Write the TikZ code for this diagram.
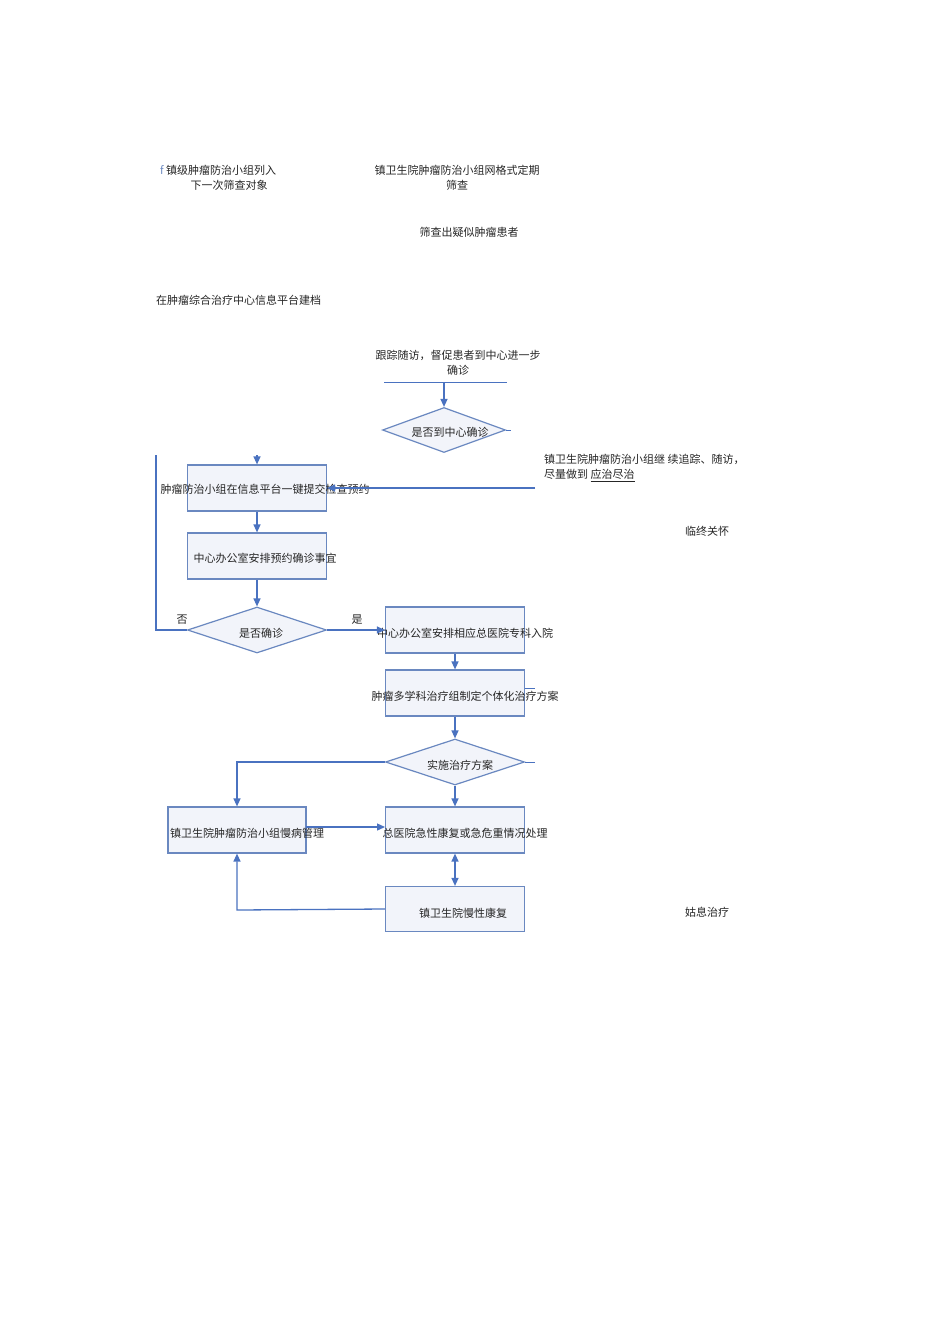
\documentclass[tikz,border=0pt]{standalone}
\usepackage{fontspec}
\newfontfamily\cjk{Noto Sans CJK SC}
\usetikzlibrary{arrows.meta,shapes.geometric}
\definecolor{ln}{HTML}{4A72C0}
\definecolor{bd}{HTML}{6A88C0}
\definecolor{bx}{HTML}{F2F4FA}
\begin{document}
\begin{tikzpicture}[x=1pt,y=-1pt,
  every node/.style={font=\cjk\fontsize{11}{15}\selectfont,text=black!85,inner sep=0pt},
  box/.style={draw=bd,line width=1.2pt,fill=bx,minimum width=139pt,minimum height=46pt,align=center},
  dia/.style={draw=bd,line width=1.2pt,fill=bx,diamond,aspect=3,minimum width=139pt,minimum height=46pt,inner sep=0pt},
  txt/.style={align=center},
  con/.style={draw=ln,line width=1.3pt},
  arr/.style={con,-{Triangle[length=8pt,width=7pt]}}]
\useasboundingbox[fill=white] (0,0) rectangle (950,1344);
\node[txt,anchor=west] (t1) at (160,178) {{\color{bd}f} 镇级肿瘤防治小组列入\\\hspace*{2em}下一次筛查对象};
\node[txt] (t2) at (457,178) {镇卫生院肿瘤防治小组网格式定期\\筛查};
\node[txt] (t3) at (469,232) {筛查出疑似肿瘤患者};
\node[txt,anchor=west] (t4) at (156,300) {在肿瘤综合治疗中心信息平台建档};
\node[txt] (t5) at (458,363) {跟踪随访，督促患者到中心进一步\\确诊};
\coordinate (l1a) at (384,382); \coordinate (l1b) at (507,382); \coordinate (l1m) at (444,382);
\draw[con,line width=0.8pt] (l1a) -- (l1b);
\node[dia,minimum width=123pt,minimum height=45pt] (d1) at (444,430) {};
\node (d1t) at (450,432) {是否到中心确诊};
\draw[arr] (l1m) -- (d1.north);
\coordinate (d1s) at (511,430); \draw[con,line width=0.8pt] (d1.east) -- (d1s);
\node[box] (b1) at (257,488) {};
\node (b1t) at (265,489) {肿瘤防治小组在信息平台\\一键提交检查预约};
\node[box] (b2) at (257,556) {};
\node (b2t) at (265,558) {中心办公室安排预约确诊\\事宜};
\node[dia] (d2) at (257,630) {};
\node (d2t) at (261,633) {是否确诊};
\node (no) at (182,620) {否};
\node (yes) at (357,620) {是};
\coordinate (vtop) at (156,455); \coordinate (vbot) at (156,630);
\draw[con] (vtop) -- (vbot) -- (d2.west);
\coordinate (a1) at (257,455); \draw[arr] (a1) -- (b1.north);
\coordinate (r1) at (535,488); \draw[arr] (r1) -- (b1.east);
\node[txt,anchor=north west,align=left] (t6) at (544,454) {镇卫生院肿瘤防治小组继 续追踪、随访，\\尽量做到 \underline{应治尽治}};
\node (t7) at (707,531) {临终关怀};
\draw[arr] (b1) -- (b2);
\draw[arr] (b2) -- (d2);
\node[box] (b3) at (455,630) {};
\node (b3t) at (465,633) {中心办公室安排相应总医\\院专科入院};
\draw[arr] (d2.east) -- (b3.west);
\node[box] (b4) at (455,693) {};
\node (b4t) at (465,696) {肿瘤多学科治疗组制定个\\体化治疗方案};
\draw[arr] (b3) -- (b4);
\coordinate (b4s) at (535,688); \draw[con,line width=0.8pt] (b4.east |- b4s) -- (b4s);
\node[dia] (d3) at (455,762) {};
\node (d3t) at (460,765) {实施治疗方案};
\draw[arr] (b4) -- (d3);
\coordinate (d3s) at (535,762); \draw[con,line width=0.8pt] (d3.east) -- (d3s);
\node[box,minimum width=138pt] (b5) at (237,830) {};
\node (b5t) at (247,833) {镇卫生院肿瘤防治小组慢\\病管理};
\node[box] (b6) at (455,830) {};
\node (b6t) at (465,833) {总医院急性康复或急危重\\情况处理};
\node[box,minimum height=45pt] (b7) at (455,909) {};
\node (b7t) at (463,913) {镇卫生院慢性康复};
\coordinate (c1) at (237,762); \draw[arr] (d3.west) -- (c1) -- (b5.north);
\draw[arr] (d3) -- (b6);
\coordinate (b5r) at (306,827); \coordinate (b6l) at (385,827);
\draw[arr] (b5r) -- (b6l);
\draw[con,{Triangle[length=8pt,width=7pt]}-{Triangle[length=8pt,width=7pt]}] (b6) -- (b7);
\coordinate (c2) at (237,910); \draw[arr] (b7.west) -- (c2) -- (b5.south);
\node (t8) at (707,912) {姑息治疗};
\end{tikzpicture}
\end{document}
